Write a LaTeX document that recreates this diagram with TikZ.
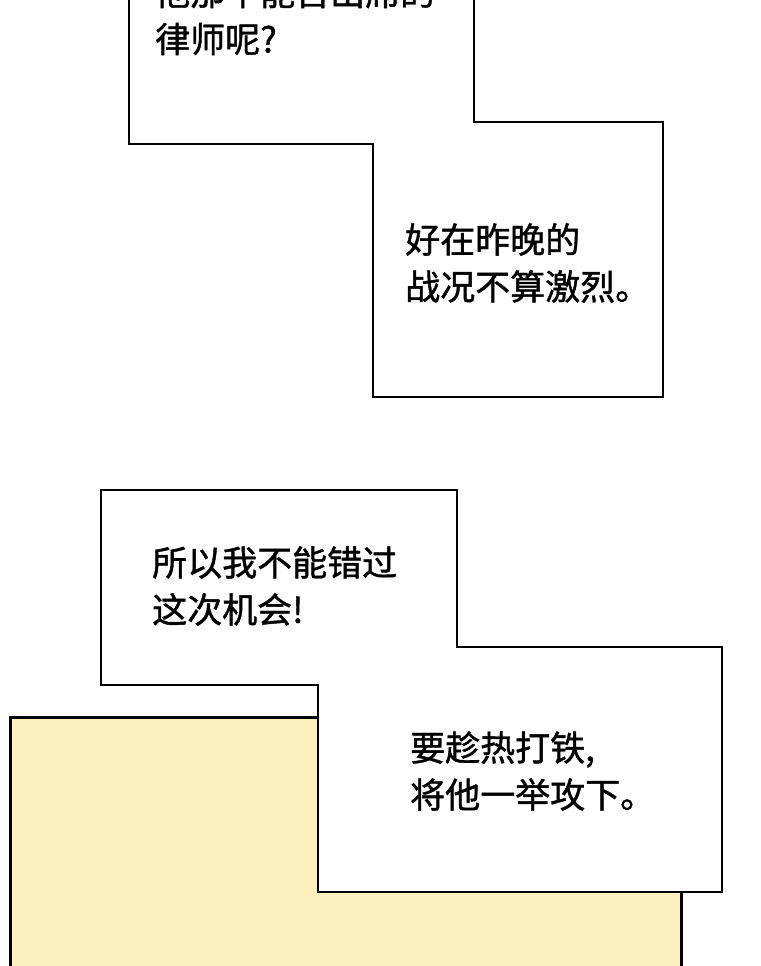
\documentclass[tikz,border=0pt]{standalone}
\usepackage{fontspec}
\newfontfamily\cjk[FakeBold=1.2]{Noto Sans CJK SC}
\definecolor{panelyellow}{RGB}{252,240,188}
\begin{document}
\begin{tikzpicture}[x=1pt,y=-1pt,
  box/.style={draw=black,line width=2pt,fill=white},
  txt/.style={anchor=west,font=\cjk\fontsize{35}{47}\selectfont,inner sep=0pt,align=left}]
\useasboundingbox (0,0) rectangle (760,966);
\begin{scope}
\clip (0,0) rectangle (760,966);
\fill[white] (0,0) rectangle (760,966);
% yellow panel
\fill[panelyellow] (10,717) rectangle (681,980);
\draw[line width=3pt] (10,980) -- (10,717) -- (681,717) -- (681,980);
% box 1
\draw[box] (129,-10) -- (129,144) -- (373,144) -- (373,397) -- (663,397) -- (663,122) -- (474,122) -- (474,-10);
\node[txt] (t0) at (155,-8) {他那不能否出席的};
\node[txt] (t1) at (155,39) {律师呢?};
\node[txt] (t2) at (405,263) {好在昨晚的\\战况不算激烈。};
% box 2
\draw[box] (101,490) -- (457,490) -- (457,647) -- (722,647) -- (722,892) -- (318,892) -- (318,685) -- (101,685) -- cycle;
\node[txt] (t3) at (152,586) {所以我不能错过\\这次机会!};
\node[txt] (t4) at (410,771) {要趁热打铁,\\将他一举攻下。};
\end{scope}
\end{tikzpicture}
\end{document}
